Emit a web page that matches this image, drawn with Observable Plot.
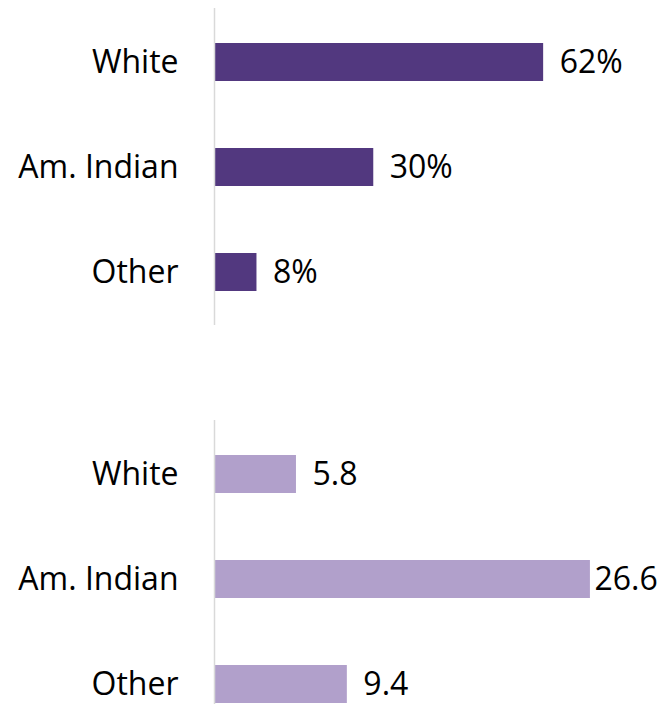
<!DOCTYPE html>
<html>
<head>
<meta charset="utf-8">
<script src="https://cdn.jsdelivr.net/npm/d3@7"></script>
<script src="https://cdn.jsdelivr.net/npm/@observablehq/plot@0.6"></script>
<style>
  html, body { margin: 0; padding: 0; background: #fff; overflow: hidden; }
  #chart svg { display: block; }
</style>
</head>
<body>
<div id="chart"></div>
<script>
const categories = ["White", "Am. Indian", "Other"];
const shareValues = [62, 30, 8];
const shareLabels = ["62%", "30%", "8%"];
const rateValues = [5.8, 26.6, 9.4];
const rateLabels = ["5.8", "26.6", "9.4"];

const topData = categories.map((g, i) => ({group: g, value: shareValues[i], label: shareLabels[i]}));
const botData = categories.map((g, i) => ({group: g, value: rateValues[i], label: rateLabels[i]}));

const FONT = "'Open Sans', 'DejaVu Sans', sans-serif";
const FS = 32;

function panel(data, {color, xMax, height, marginTop, marginBottom}) {
  const tight = d => d.value / xMax > 0.8;
  return Plot.plot({
    width: 661,
    height,
    marginLeft: 214,
    marginRight: 0,
    marginTop,
    marginBottom,
    style: {fontFamily: FONT, fontSize: FS + "px", color: "#000", background: "#fff"},
    x: {domain: [0, xMax], axis: null},
    y: {domain: categories, paddingInner: 0.64, paddingOuter: 0.32, label: null, axis: null},
    marks: [
      Plot.barX(data, {x: "value", y: "group", fill: color}),
      Plot.ruleX([0], {stroke: "#d9d9d9", strokeWidth: 1.5}),
      Plot.text(data, {filter: d => !tight(d), x: "value", y: "group", text: "label",
        textAnchor: "start", dx: 16, fill: "#000", fontSize: FS, fontFamily: FONT}),
      Plot.text(data, {filter: tight, x: "value", y: "group", text: "label",
        textAnchor: "start", dx: 4, fill: "#000", fontSize: FS, fontFamily: FONT}),
      Plot.axisY({tickSize: 0, tickPadding: 36, fontSize: FS, fontFamily: FONT, fill: "#000", label: null})
    ]
  });
}

const chart = document.getElementById("chart");
chart.appendChild(panel(topData, {color: "#52387f", xMax: 84.2, height: 330, marginTop: 8, marginBottom: 5}));
chart.appendChild(panel(botData, {color: "#b1a0cb", xMax: 31.63, height: 407, marginTop: 90, marginBottom: 0}));
</script>
</body>
</html>
